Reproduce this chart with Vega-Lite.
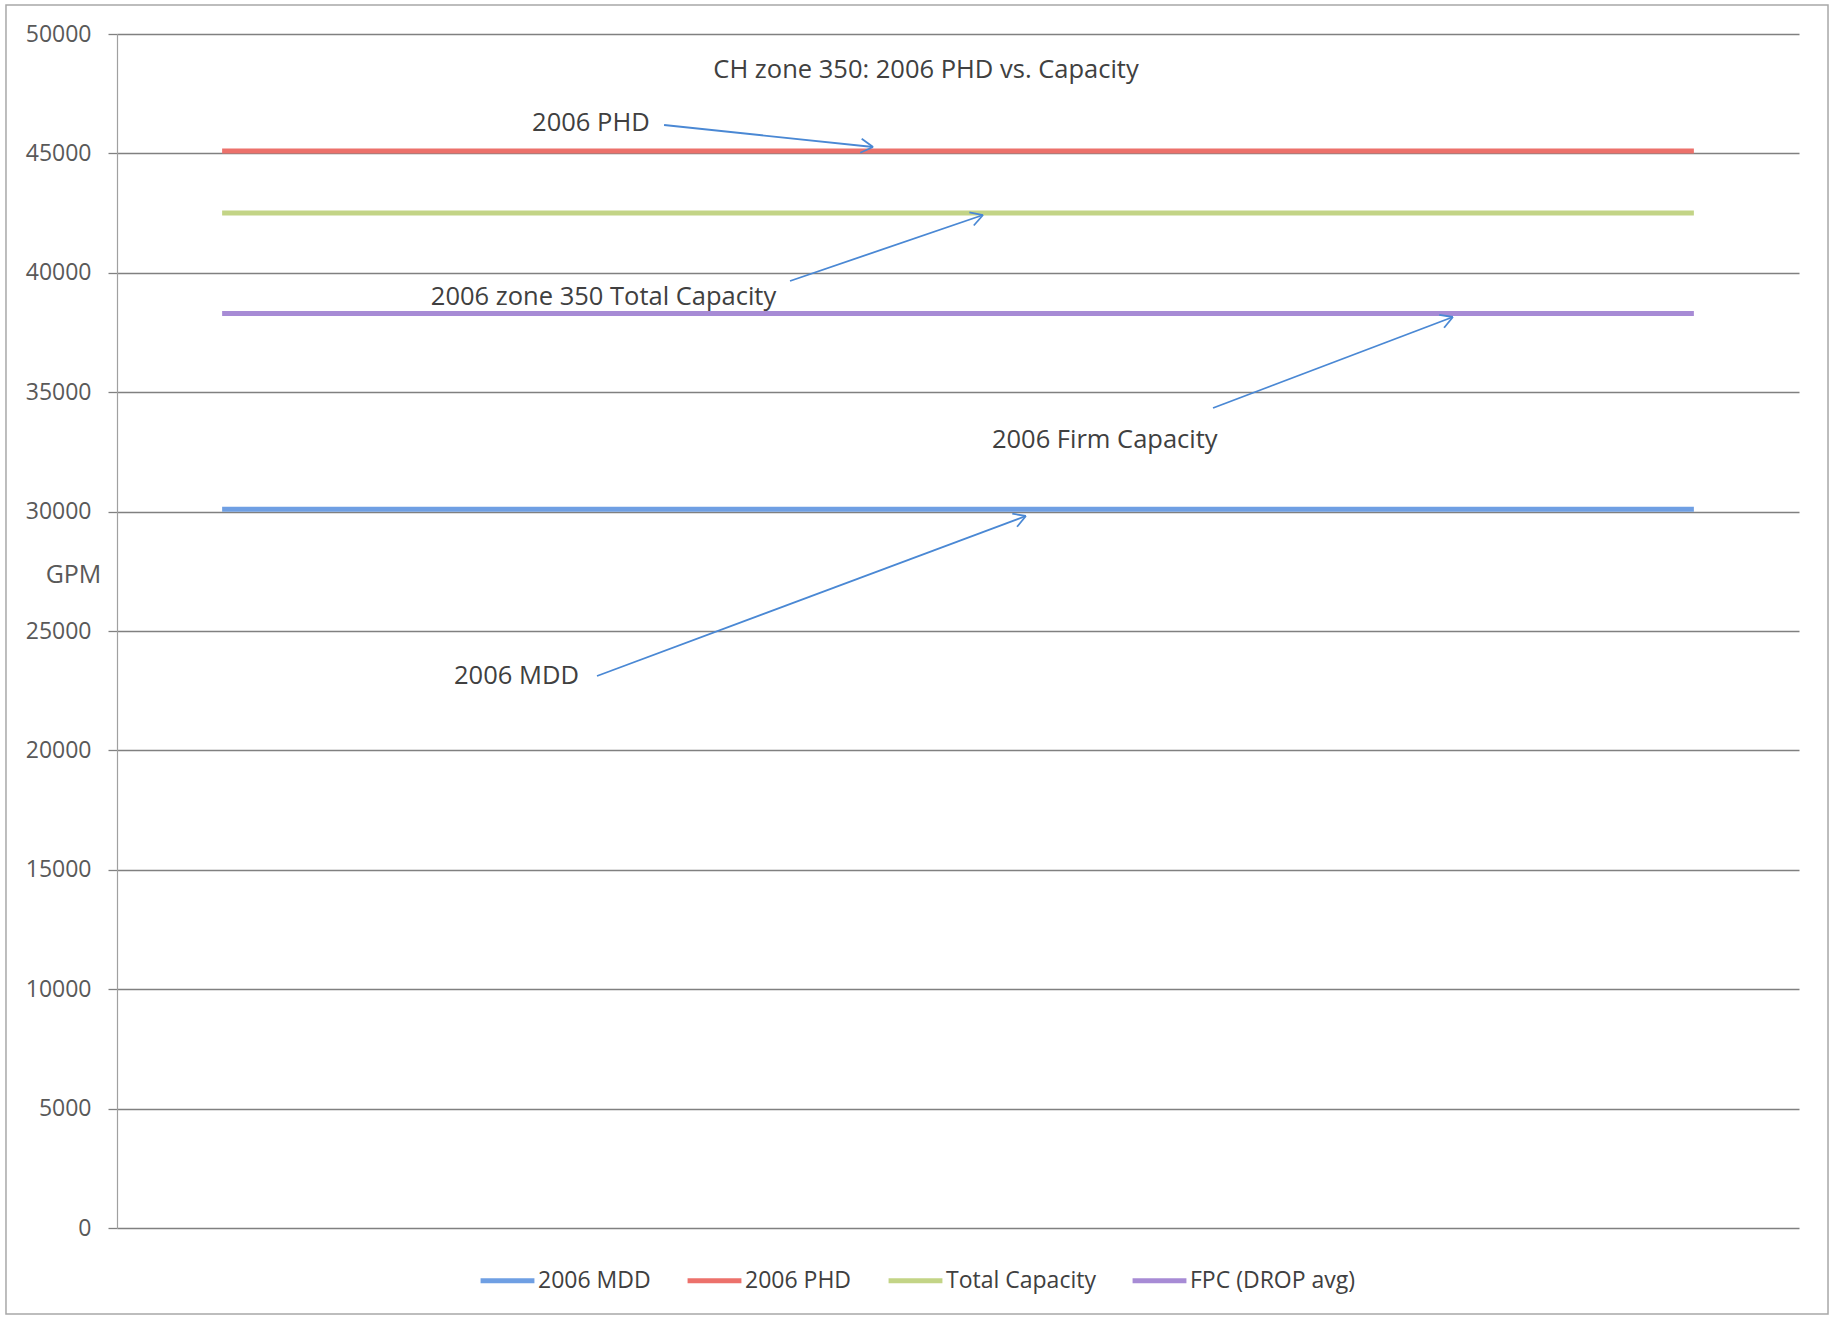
{
  "$schema": "https://vega.github.io/schema/vega-lite/v6.json",
  "width": 1682,
  "height": 1194,
  "autosize": {"type": "none"},
  "padding": {"left": 117, "top": 34, "right": 35, "bottom": 90},
  "background": "white",
  "config": {
    "view": {"stroke": null},
    "font": "Open Sans",
    "text": {"font": "Open Sans"}
  },
  "datasets": {
    "series": [
      {"series": "2006 MDD", "cat": 0, "gpm": 30100},
      {"series": "2006 MDD", "cat": 1, "gpm": 30100},
      {"series": "2006 MDD", "cat": 2, "gpm": 30100},
      {"series": "2006 MDD", "cat": 3, "gpm": 30100},
      {"series": "2006 MDD", "cat": 4, "gpm": 30100},
      {"series": "2006 MDD", "cat": 5, "gpm": 30100},
      {"series": "2006 MDD", "cat": 6, "gpm": 30100},
      {"series": "2006 MDD", "cat": 7, "gpm": 30100},
      {"series": "2006 PHD", "cat": 0, "gpm": 45100},
      {"series": "2006 PHD", "cat": 1, "gpm": 45100},
      {"series": "2006 PHD", "cat": 2, "gpm": 45100},
      {"series": "2006 PHD", "cat": 3, "gpm": 45100},
      {"series": "2006 PHD", "cat": 4, "gpm": 45100},
      {"series": "2006 PHD", "cat": 5, "gpm": 45100},
      {"series": "2006 PHD", "cat": 6, "gpm": 45100},
      {"series": "2006 PHD", "cat": 7, "gpm": 45100},
      {"series": "Total Capacity", "cat": 0, "gpm": 42500},
      {"series": "Total Capacity", "cat": 1, "gpm": 42500},
      {"series": "Total Capacity", "cat": 2, "gpm": 42500},
      {"series": "Total Capacity", "cat": 3, "gpm": 42500},
      {"series": "Total Capacity", "cat": 4, "gpm": 42500},
      {"series": "Total Capacity", "cat": 5, "gpm": 42500},
      {"series": "Total Capacity", "cat": 6, "gpm": 42500},
      {"series": "Total Capacity", "cat": 7, "gpm": 42500},
      {"series": "FPC (DROP avg)", "cat": 0, "gpm": 38300},
      {"series": "FPC (DROP avg)", "cat": 1, "gpm": 38300},
      {"series": "FPC (DROP avg)", "cat": 2, "gpm": 38300},
      {"series": "FPC (DROP avg)", "cat": 3, "gpm": 38300},
      {"series": "FPC (DROP avg)", "cat": 4, "gpm": 38300},
      {"series": "FPC (DROP avg)", "cat": 5, "gpm": 38300},
      {"series": "FPC (DROP avg)", "cat": 6, "gpm": 38300},
      {"series": "FPC (DROP avg)", "cat": 7, "gpm": 38300}
    ],
    "arrows": [
      {"x": 2.102, "y": 46189, "x2": 3.096, "y2": 45268},
      {"x": 3.096, "y": 45268, "x2": 3.042, "y2": 45612},
      {"x": 3.096, "y": 45268, "x2": 3.035, "y2": 45029},
      {"x": 2.701, "y": 39657, "x2": 3.619, "y2": 42420},
      {"x": 3.619, "y": 42420, "x2": 3.554, "y2": 42534},
      {"x": 3.619, "y": 42420, "x2": 3.575, "y2": 41981},
      {"x": 4.713, "y": 34338, "x2": 5.854, "y2": 38149},
      {"x": 5.854, "y": 38149, "x2": 5.789, "y2": 38241},
      {"x": 5.854, "y": 38149, "x2": 5.812, "y2": 37697},
      {"x": 1.783, "y": 23116, "x2": 3.823, "y2": 29816},
      {"x": 3.823, "y": 29816, "x2": 3.758, "y2": 29912},
      {"x": 3.823, "y": 29816, "x2": 3.781, "y2": 29364}
    ],
    "labels": [
      {"x": 3.348, "y": 48492, "text": "CH zone 350: 2006 PHD vs. Capacity"},
      {"x": 1.754, "y": 46273, "text": "2006 PHD"},
      {"x": 1.814, "y": 38987, "text": "2006 zone 350 Total Capacity"},
      {"x": 4.198, "y": 33007, "text": "2006 Firm Capacity"},
      {"x": 1.4, "y": 23116, "text": "2006 MDD"}
    ],
    "frame": [
      {"x": -1.028, "x2": 7.638, "y": 51212, "y2": -3598}
    ]
  },
  "layer": [
    {
      "data": {"name": "frame"},
      "mark": {"type": "rect", "filled": false, "stroke": "#a8a8a8", "strokeWidth": 1.5, "clip": false},
      "encoding": {
        "x": {"field": "x", "type": "quantitative", "scale": {"domain": [-0.5, 7.5], "nice": false, "zero": false}, "axis": null},
        "x2": {"field": "x2"},
        "y": {"field": "y", "type": "quantitative", "scale": {"domain": [0, 50000], "nice": false}},
        "y2": {"field": "y2"}
      }
    },
    {
      "data": {"name": "series"},
      "mark": {"type": "line", "strokeWidth": 5},
      "encoding": {
        "x": {"field": "cat", "type": "quantitative", "scale": {"domain": [-0.5, 7.5], "nice": false, "zero": false}, "axis": null},
        "y": {
          "field": "gpm", "type": "quantitative",
          "scale": {"domain": [0, 50000], "nice": false},
          "axis": {
            "values": [0, 5000, 10000, 15000, 20000, 25000, 30000, 35000, 40000, 45000, 50000],
            "format": "d",
            "grid": true, "gridColor": "#808080", "gridWidth": 1.3,
            "domain": true, "domainColor": "#a0a0a0", "domainWidth": 1.2,
            "ticks": true, "tickSize": 9, "tickColor": "#808080", "tickWidth": 1.3,
            "labelFontSize": 23, "labelColor": "#595959", "labelPadding": 17, "labelFont": "Open Sans",
            "title": "GPM", "titleAngle": 0, "titleX": -44, "titleY": 540,
            "titleAlign": "center", "titleBaseline": "middle",
            "titleFontSize": 25, "titleFontWeight": "normal", "titleColor": "#595959", "titleFont": "Open Sans"
          }
        },
        "color": {
          "field": "series", "type": "nominal",
          "scale": {
            "domain": ["2006 MDD", "2006 PHD", "Total Capacity", "FPC (DROP avg)"],
            "range": ["#6f9fe3", "#ec716b", "#c3d486", "#a78bd5"]
          },
          "legend": {
            "title": null, "orient": "none", "direction": "horizontal",
            "legendX": 361, "legendY": 1217,
            "symbolType": "stroke", "symbolSize": 2900, "symbolStrokeWidth": 5,
            "labelFontSize": 23, "labelColor": "#404040", "labelFont": "Open Sans",
            "labelLimit": 500,
            "labelOffset": 1, "columnPadding": 26
          }
        }
      }
    },
    {
      "data": {"name": "arrows"},
      "mark": {"type": "rule", "color": "#4a88d4", "strokeWidth": 1.8, "clip": false},
      "encoding": {
        "x": {"field": "x", "type": "quantitative"},
        "y": {"field": "y", "type": "quantitative"},
        "x2": {"field": "x2"},
        "y2": {"field": "y2"}
      }
    },
    {
      "data": {"name": "labels"},
      "mark": {"type": "text", "fontSize": 25.5, "color": "#404040", "align": "center", "baseline": "middle", "font": "Open Sans"},
      "encoding": {
        "x": {"field": "x", "type": "quantitative"},
        "y": {"field": "y", "type": "quantitative"},
        "text": {"field": "text"}
      }
    }
  ]
}
